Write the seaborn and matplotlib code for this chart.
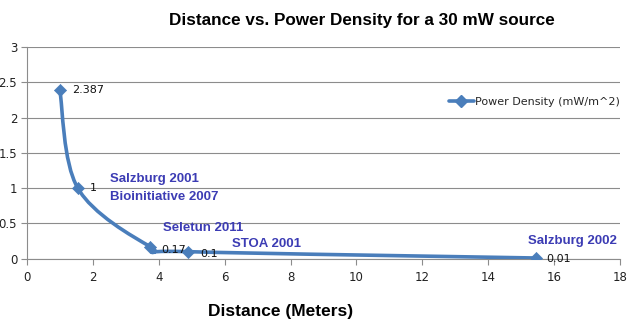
import matplotlib
matplotlib.use("Agg")
import matplotlib.pyplot as plt
import seaborn as sns
import numpy as np
import pandas as pd
from matplotlib.path import Path
from matplotlib.patches import PathPatch
from matplotlib.lines import Line2D

# ---- data ----
distance_m = [1.0, 1.545, 3.747, 4.886, 15.45]
power_density = [2.387, 1.0, 0.17, 0.1, 0.01]
value_labels = ["2.387", "1", "0.17", "0.1", "0.01"]
study_labels = ["Salzburg 2001", "Bioinitiative 2007", "Seletun 2011", "STOA 2001", "Salzburg 2002"]
study_pos = [(2.52, 1.13), (2.52, 0.875), (4.13, 0.435), (6.22, 0.21), (15.2, 0.25)]
series_name = "Power Density (mW/m^2)"
title = "Distance vs. Power Density for a 30 mW source"
xlabel = "Distance (Meters)"

sns.set_theme(style="white")
plt.rcParams['font.family'] = ['DejaVu Sans']

line_color = "#4A7EBB"
label_blue = "#3C3CB4"
bold_family = ['Liberation Sans', 'DejaVu Sans']

fig = plt.figure(figsize=(6.4, 3.24), dpi=100)
ax = fig.add_axes([0.042, 0.2015, 0.927, 0.653])

df = pd.DataFrame({"x": distance_m, "y": power_density})

# smooth (Excel-like) Bezier curve through the points
pts = np.column_stack([df["x"].to_numpy(), df["y"].to_numpy()])
n = len(pts)
verts = [tuple(pts[0])]
codes = [Path.MOVETO]
for i in range(n - 1):
    p0 = pts[i - 1] if i > 0 else pts[i]
    p1 = pts[i]
    p2 = pts[i + 1]
    p3 = pts[i + 2] if i + 2 < n else pts[i + 1]
    c1 = p1 + (p2 - p0) / 6.0
    c2 = p2 - (p3 - p1) / 6.0
    verts += [tuple(c1), tuple(c2), tuple(p2)]
    codes += [Path.CURVE4] * 3
ax.add_patch(PathPatch(Path(verts, codes), facecolor="none", edgecolor=line_color,
                       lw=2.6, capstyle="round", joinstyle="round", zorder=3))

sns.scatterplot(data=df, x="x", y="y", marker="D", s=38, color=line_color,
                edgecolor=line_color, ax=ax, zorder=4, legend=False)

ax.set_xlim(0, 18)
ax.set_ylim(0, 3)
ax.set_xticks(np.arange(0, 19, 2))
ax.set_yticks(np.arange(0, 3.01, 0.5))
ax.set_xticklabels([str(v) for v in range(0, 19, 2)])
ax.set_yticklabels(["0", "0.5", "1", "1.5", "2", "2.5", "3"])
ax.yaxis.grid(True, color="#8C8C8C", lw=0.8)
ax.xaxis.grid(False)
for s in ["top", "right"]:
    ax.spines[s].set_visible(False)
for s in ["left", "bottom"]:
    ax.spines[s].set_color("#8C8C8C")
    ax.spines[s].set_linewidth(0.8)
ax.tick_params(axis="both", which="major", length=4, width=0.8, color="#8C8C8C",
               labelsize=8.5, labelcolor="#222222", direction="out", bottom=True, left=True)
ax.tick_params(axis="x", pad=5)
ax.tick_params(axis="y", pad=3)
ax.set_xlabel("")
ax.set_ylabel("")

# value labels
offsets = [(9, 0), (9, 0), (8, -2), (9, -2), (7, -1)]
for x, y, t, off in zip(distance_m, power_density, value_labels, offsets):
    ax.annotate(t, (x, y), xytext=off, textcoords="offset points", fontsize=8,
                color="#111111", va="center", ha="left", zorder=5)

# study labels
for (x, y), t in zip(study_pos, study_labels):
    ax.text(x, y, t, fontsize=9.5, fontweight="bold", color=label_blue, va="center",
            ha="left", zorder=5, family=bold_family)

handle = Line2D([0], [0], color=line_color, lw=2.6, marker="D", markersize=6,
                markerfacecolor=line_color, markeredgecolor=line_color)
ax.legend([handle], [series_name], loc="center left", bbox_to_anchor=(0.695, 0.74),
          frameon=False, fontsize=8, handlelength=2.2, handletextpad=0.15)

fig.text(0.566, 0.938, title, fontsize=12.3, fontweight="bold", ha="center", va="center",
         color="black", family=bold_family)
fig.text(0.438, 0.04, xlabel, fontsize=12.5, fontweight="bold", ha="center", va="center",
         color="black", family=bold_family)

fig.savefig("out.png", dpi=100, facecolor="white")
